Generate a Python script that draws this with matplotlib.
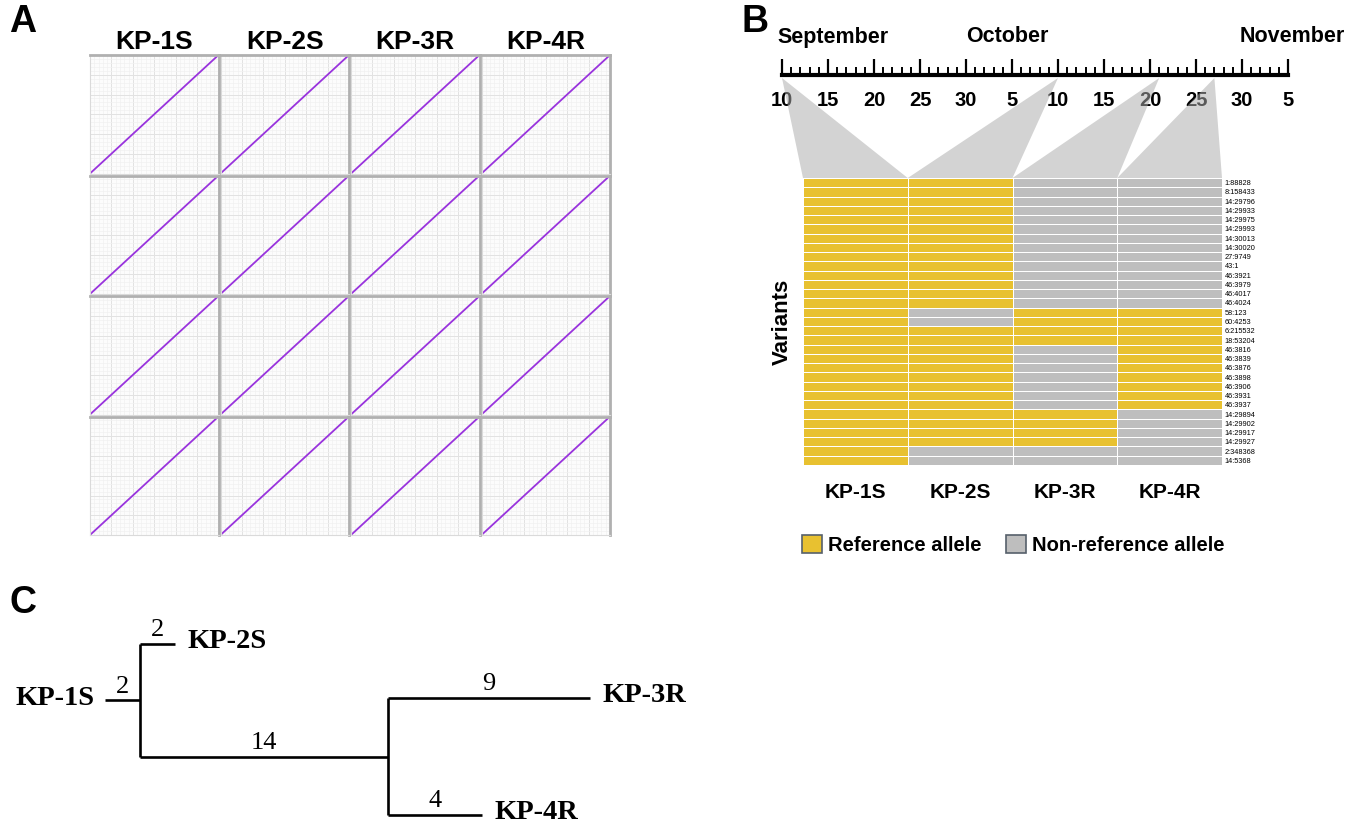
import matplotlib
matplotlib.use('Agg')
import numpy as np
from matplotlib import pyplot as plt
from matplotlib.colors import ListedColormap
from matplotlib.patches import Patch, Polygon
from matplotlib.ticker import MultipleLocator

plt.rcParams['font.family'] = ['Liberation Sans', 'DejaVu Sans']

W, H = 1361, 825

samples = ['KP-1S', 'KP-2S', 'KP-3R', 'KP-4R']

# panel A: genome size (Mb) used for the all-vs-all dot plots
genome_mb = [5.5, 5.5, 5.5, 5.5]

# panel B: sampling timeline (days counted from September 10)
day_labels = ['10', '15', '20', '25', '30', '5', '10', '15', '20', '25', '30', '5']
months = ['September', 'October', 'November']
month_pos = [5.5, 24.5, 55.5]
sample_day = [0, 30, 41, 47]

variants = ['1:88828', '8:158433', '14:29796', '14:29933', '14:29975', '14:29993',
            '14:30013', '14:30020', '27:9749', '43:1', '46:3921', '46:3979',
            '46:4017', '46:4024', '58:123', '60:4253', '6:215532', '18:53204',
            '46:3816', '46:3839', '46:3876', '46:3898', '46:3906', '46:3931',
            '46:3937', '14:29894', '14:29902', '14:29917', '14:29927', '2:348368',
            '14:5368']
# 1 = reference allele, 0 = non-reference allele
kp1s = [1, 1, 1, 1, 1, 1, 1, 1, 1, 1, 1, 1, 1, 1, 1, 1, 1, 1, 1, 1, 1, 1, 1, 1, 1, 1, 1, 1, 1, 1, 1]
kp2s = [1, 1, 1, 1, 1, 1, 1, 1, 1, 1, 1, 1, 1, 1, 0, 0, 1, 1, 1, 1, 1, 1, 1, 1, 1, 1, 1, 1, 1, 0, 0]
kp3r = [0, 0, 0, 0, 0, 0, 0, 0, 0, 0, 0, 0, 0, 0, 1, 1, 1, 1, 0, 0, 0, 0, 0, 0, 0, 1, 1, 1, 1, 0, 0]
kp4r = [0, 0, 0, 0, 0, 0, 0, 0, 0, 0, 0, 0, 0, 0, 1, 1, 1, 1, 1, 1, 1, 1, 1, 1, 1, 0, 0, 0, 0, 0, 0]
allele_labels = ['Reference allele', 'Non-reference allele']

# panel C: tree (branch labels and drawn branch lengths)
branch_names = ['root', 'KP-2S', 'inner', 'KP-3R', 'KP-4R']
branch_labels = ['2', '2', '14', '9', '4']
branch_drawn = [2, 2, 14, 11.4, 5.3]
leaf_rows = {'KP-2S': 0, 'KP-3R': 1, 'KP-4R': 3.17}

yellow = '#E8C130'
grey = '#BEBEBE'
purple = '#9933DD'

fig = plt.figure(figsize=(W / 100, H / 100), dpi=100)


def px_axes(x0, y0, x1, y1):
    return fig.add_axes([x0 / W, 1 - y1 / H, (x1 - x0) / W, (y1 - y0) / H])


# ---------- A ----------
cw = (520 - 3 * 2) / 4
ch = (480 - 3 * 2) / 4
for r in range(4):
    for c in range(4):
        x0 = 90 + c * (cw + 2)
        y0 = 55 + r * (ch + 2)
        ax = px_axes(x0, y0, x0 + cw, y0 + ch)
        lx, ly = genome_mb[c], genome_mb[r]
        ax.set_xlim(0, lx)
        ax.set_ylim(0, ly)
        ax.set_facecolor('#fcfcfc')
        ax.xaxis.set_minor_locator(MultipleLocator(lx / 30))
        ax.yaxis.set_minor_locator(MultipleLocator(ly / 30))
        ax.xaxis.set_major_locator(MultipleLocator(lx / 6))
        ax.yaxis.set_major_locator(MultipleLocator(ly / 6))
        ax.grid(which='minor', color='#f1f1f1', lw=0.5)
        ax.grid(which='major', color='#e2e2e2', lw=0.7)
        ax.tick_params(which='both', length=0, labelbottom=False, labelleft=False)
        ax.plot([0, lx], [0, ly], color=purple, lw=1.3)
        for s in ['top', 'right']:
            ax.spines[s].set_color('#b0b0b0')
            ax.spines[s].set_linewidth(2)
        for s in ['left', 'bottom']:
            ax.spines[s].set_color('#dadada')
            ax.spines[s].set_linewidth(0.8)
for c, name in enumerate(samples):
    fig.text((90 + c * (cw + 2) + cw / 2) / W, 1 - 42 / H, name, ha='center', va='center',
             fontsize=19, fontweight='bold')

# ---------- B ----------
axh = px_axes(803, 178, 1222, 465)
state = np.array([kp1s, kp2s, kp3r, kp4r]).T
axh.pcolormesh(np.arange(5), np.arange(len(variants) + 1), state,
               cmap=ListedColormap([grey, yellow]), vmin=0, vmax=1,
               edgecolors='white', linewidth=0.7)
axh.set_xlim(0, 4)
axh.set_ylim(len(variants), 0)
axh.set_yticks(np.arange(len(variants)) + 0.5, variants)
axh.yaxis.tick_right()
axh.tick_params(axis='y', length=0, labelsize=5.3, pad=2)
axh.set_xticks(np.arange(4) + 0.5, samples)
axh.tick_params(axis='x', length=0, labelsize=15, pad=13)
for lab in axh.get_xticklabels():
    lab.set_fontweight('bold')
for s in axh.spines.values():
    s.set_visible(False)
axh.yaxis.set_label_position('left')
axh.set_ylabel('Variants', fontsize=16, fontweight='bold', labelpad=7)

axt = px_axes(782, 55, 1288, 75)
axt.set_xlim(0, 55)
axt.set_ylim(0, 1)
axt.patch.set_visible(False)
for s in ['top', 'left', 'right']:
    axt.spines[s].set_visible(False)
axt.spines['bottom'].set_linewidth(3)
axt.set_yticks([])
axt.set_xticks(np.arange(0, 56, 5), day_labels)
axt.xaxis.set_minor_locator(MultipleLocator(1))
axt.tick_params(axis='x', which='major', direction='in', length=11.5, width=1.6,
                labelsize=14.5, pad=11.5)
axt.tick_params(axis='x', which='minor', direction='in', length=5.5, width=1.4)
for lab in axt.get_xticklabels():
    lab.set_fontweight('bold')
for m, p in zip(months, month_pos):
    axt.text(p, 1.9, m, transform=axt.get_xaxis_transform(), ha='center', va='center',
             fontsize=15.5, fontweight='bold')

to_fig = fig.transFigure.inverted()
for i, d in enumerate(sample_day):
    apex = to_fig.transform(axt.transData.transform((d, 0)) + np.array([0, -3]))
    bl = to_fig.transform(axh.transData.transform((i, 0)))
    br = to_fig.transform(axh.transData.transform((i + 1, 0)))
    fig.add_artist(Polygon([apex, bl, br], closed=True, transform=fig.transFigure,
                           fc='#ababab', alpha=0.52, ec='none', zorder=1))

handles = [Patch(fc=yellow, ec='#56606b', lw=1.2), Patch(fc=grey, ec='#56606b', lw=1.2)]
fig.legend(handles, allele_labels, loc='center left', bbox_to_anchor=(802 / W, 1 - 545 / H),
           ncol=2, frameon=False, handlelength=1.0, handleheight=1.0, handletextpad=0.3,
           columnspacing=1.2, prop={'weight': 'bold', 'size': 14.5}, borderaxespad=0, borderpad=0)

# ---------- C ----------
axc = px_axes(0, 600, 700, 825)
axc.set_xlim((0 - 140) / 17.7, (700 - 140) / 17.7)
axc.set_ylim((825 - 644) / 54, (600 - 644) / 54)
axc.axis('off')

bl_len = dict(zip(branch_names, branch_drawn))
bl_lab = dict(zip(branch_names, branch_labels))
inner_x = bl_len['inner']
inner_y = (leaf_rows['KP-3R'] + leaf_rows['KP-4R']) / 2
split_y = (leaf_rows['KP-2S'] + inner_y) / 2
tips = {'KP-2S': (bl_len['KP-2S'], leaf_rows['KP-2S']),
        'KP-3R': (inner_x + bl_len['KP-3R'], leaf_rows['KP-3R']),
        'KP-4R': (inner_x + bl_len['KP-4R'], leaf_rows['KP-4R'])}

segs = [((-bl_len['root'], 0), (split_y, split_y)),
        ((0, 0), (leaf_rows['KP-2S'], inner_y)),
        ((0, tips['KP-2S'][0]), (leaf_rows['KP-2S'],) * 2),
        ((0, inner_x), (inner_y, inner_y)),
        ((inner_x, inner_x), (leaf_rows['KP-3R'], leaf_rows['KP-4R'])),
        ((inner_x, tips['KP-3R'][0]), (leaf_rows['KP-3R'],) * 2),
        ((inner_x, tips['KP-4R'][0]), (leaf_rows['KP-4R'],) * 2)]
for xs, ys in segs:
    axc.plot(xs, ys, color='black', lw=1.9, solid_capstyle='butt')

serif = ['Liberation Serif', 'DejaVu Serif']
num_pos = {'root': (-bl_len['root'] / 2, split_y),
           'KP-2S': (tips['KP-2S'][0] / 2, leaf_rows['KP-2S']),
           'inner': (inner_x / 2, inner_y),
           'KP-3R': ((inner_x + tips['KP-3R'][0]) / 2, leaf_rows['KP-3R']),
           'KP-4R': ((inner_x + tips['KP-4R'][0]) / 2, leaf_rows['KP-4R'])}
for name in branch_names:
    axc.annotate(bl_lab[name], num_pos[name], xytext=(0, 2), textcoords='offset points',
                 ha='center', va='bottom', fontsize=19, family=serif)
for name, (tx, ty) in tips.items():
    axc.annotate(name, (tx, ty), xytext=(9, 2), textcoords='offset points',
                 ha='left', va='center', fontsize=20.5, fontweight='bold', family=serif)
axc.annotate('KP-1S', (-bl_len['root'], split_y), xytext=(-7, 1), textcoords='offset points',
             ha='right', va='center', fontsize=20.5, fontweight='bold', family=serif)

# panel letters
for letter, (x, y) in zip('ABC', [(23, 22), (755, 22), (23, 603)]):
    fig.text(x / W, 1 - y / H, letter, ha='center', va='center', fontsize=27, fontweight='bold')

fig.savefig('out.png', dpi=100)
